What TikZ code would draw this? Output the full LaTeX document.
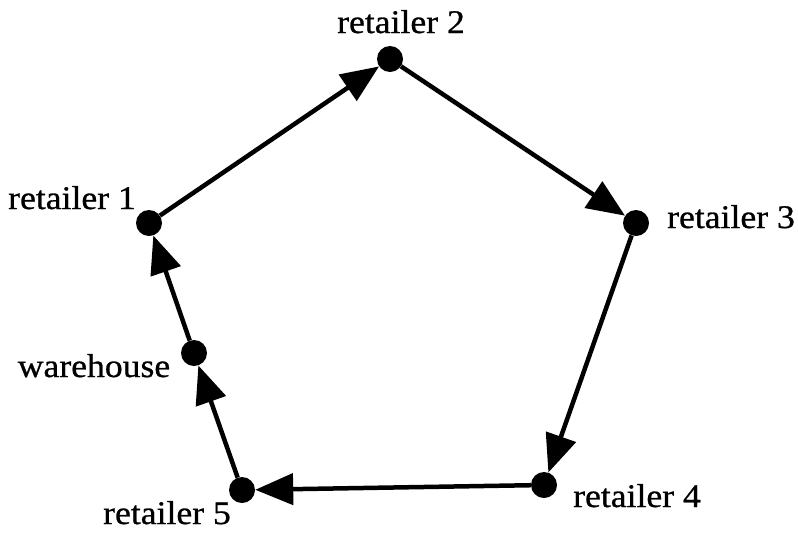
\documentclass[tikz,border=0pt]{standalone}
\usepackage{fontspec}
\setmainfont{Liberation Serif}[FakeStretch=1.08,FakeBold=0.8]
\usetikzlibrary{arrows.meta}
\begin{document}
\begin{tikzpicture}[x=1pt,y=-1pt,
  dot/.style={circle,fill=black,inner sep=0pt,minimum size=26pt},
  lbl/.style={anchor=base,inner sep=0pt,font=\fontsize{33pt}{36pt}\selectfont},
  edge/.style={line width=4.5pt,-{Triangle[length=38pt,width=31pt]}}]
\useasboundingbox (0,0) rectangle (798,539);
\node[dot] (r2) at (390,59) {};
\node[dot] (r1) at (149,223) {};
\node[dot] (r3) at (636,223) {};
\node[dot] (w)  at (194,353) {};
\node[dot] (r5) at (242,490) {};
\node[dot] (r4) at (544,485) {};
\node[lbl] (l2) at (401,33) {retailer 2};
\node[lbl] (l1) at (72,209) {retailer 1};
\node[lbl] (l3) at (731,228) {retailer 3};
\node[lbl] (lw) at (94,377) {warehouse};
\node[lbl] (l5) at (167,524) {retailer 5};
\node[lbl] (l4) at (637,507) {retailer 4};
\draw[edge] (r1) -- (r2);
\draw[edge] (r2) -- (r3);
\draw[edge] (r3) -- (r4);
\draw[edge] (r4) -- (r5);
\draw[edge] (r5) -- (w);
\draw[edge] (w) -- (r1);
\end{tikzpicture}
\end{document}
